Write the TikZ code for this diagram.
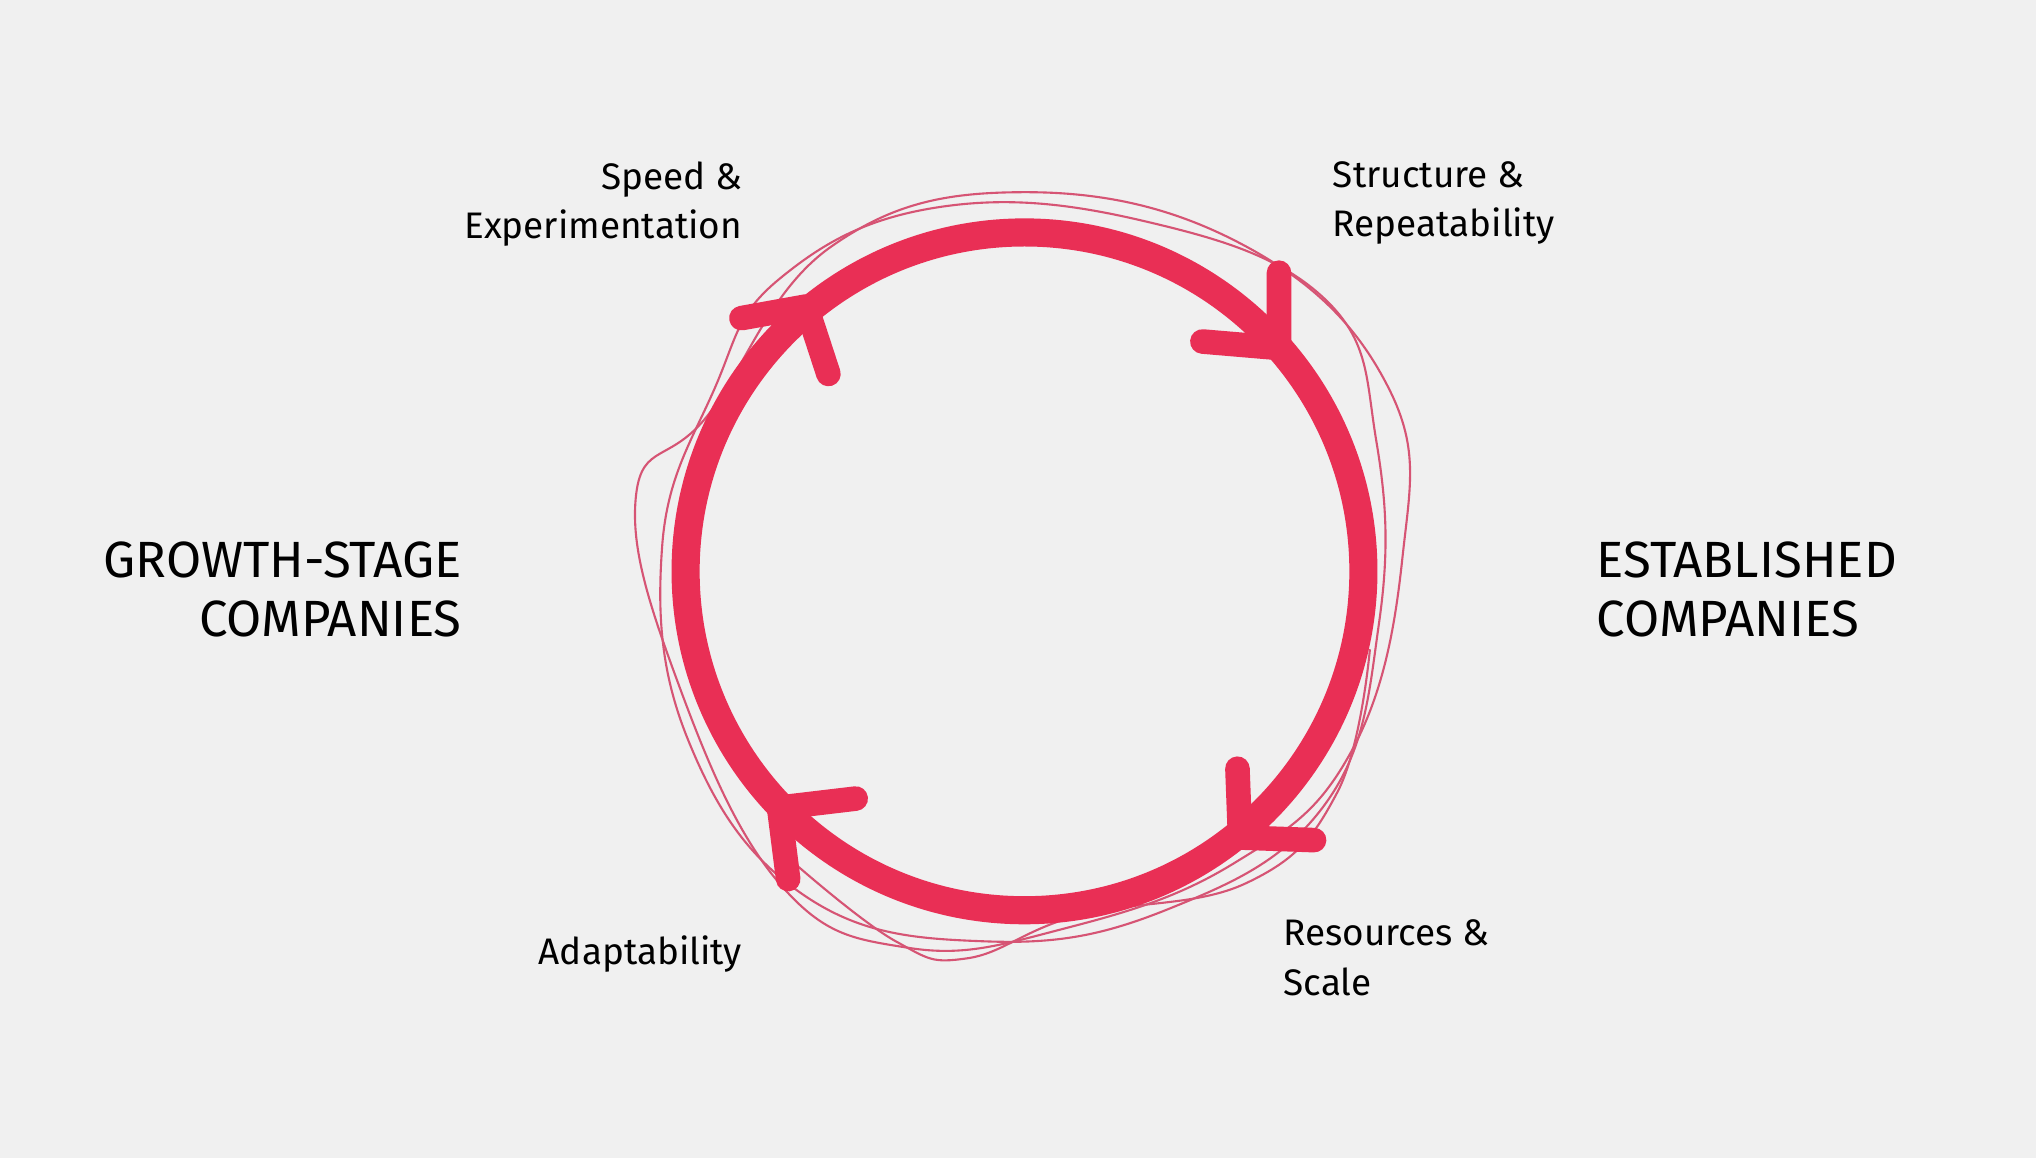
\documentclass[tikz,border=0pt]{standalone}
\usepackage{fontspec}
\setmainfont{Fira Sans}
\usetikzlibrary{positioning,calc}
\definecolor{bgcol}{HTML}{F0F0F0}
\definecolor{cyclered}{HTML}{E92F55}
\definecolor{sketchred}{HTML}{D65474}
\begin{document}
\begin{tikzpicture}[
          x=0.012985cm, y=-0.012985cm,
          small/.style={font=\fontsize{10.5}{14}\selectfont, inner sep=0pt},
          big/.style={font=\fontsize{14.5}{16.6}\selectfont, inner sep=0pt},
          ring/.style={draw=cyclered, line width=8pt},
          chevron/.style={draw=cyclered, line width=7pt, line cap=round, line join=round},
          sketch/.style={draw=sketchred, line width=0.6pt}
        ]
          \fill[bgcol] (0,0) rectangle (1568,892);

          % hand-drawn loops
          \draw[sketch] plot[smooth cycle, tension=0.7] coordinates {(600,215) (720,160) (880,170) (1020,230) (1060,340) (1062,480) (1020,620) (900,700) (760,725) (620,690) (530,570) (510,420) (550,300)};
          \draw[sketch] plot[smooth cycle, tension=0.7] coordinates {(640,190) (790,148) (960,190) (1070,300) (1080,430) (1040,580) (950,665) (820,715) (700,730) (600,680) (520,520) (490,380) (545,320)};
          \draw[sketch] plot[smooth, tension=0.7] coordinates {(612,665) (690,725) (745,738) (830,705) (960,680) (1030,610) (1055,500)};

          % main cycle
          \draw[ring] (789,440) circle (261);

          % arrowheads
          \coordinate (tipA) at (621,236);
          \coordinate (tipB) at (985,268);
          \coordinate (tipC) at (955,645);
          \coordinate (tipD) at (600,622);
          \draw[chevron] (571,245) -- (tipA) -- (638,288);
          \draw[chevron] (985,210) -- (tipB) -- (926,263);
          \draw[chevron] (953,592) -- (tipC) -- (1012,647);
          \draw[chevron] (659,615) -- (tipD) -- (607,677);

          % labels
          \node[small, align=right, anchor=north east] (speed) at (572,124) {Speed \&\\Experimentation};
          \node[small, align=left, anchor=north west] (structure) at (1026,124) {Structure \&\\Repeatability};
          \node[small, align=left, anchor=north west] (resources) at (988,708) {Resources \&\\Scale};
          \node[small, anchor=north east] (adapt) at (572,720) {Adaptability};
          \node[big, align=right, anchor=north east] (growth) at (356,417) {GROWTH-STAGE\\COMPANIES};
          \node[big, align=left, anchor=north west] (established) at (1229,417) {ESTABLISHED\\COMPANIES};
        \end{tikzpicture}
\end{document}
